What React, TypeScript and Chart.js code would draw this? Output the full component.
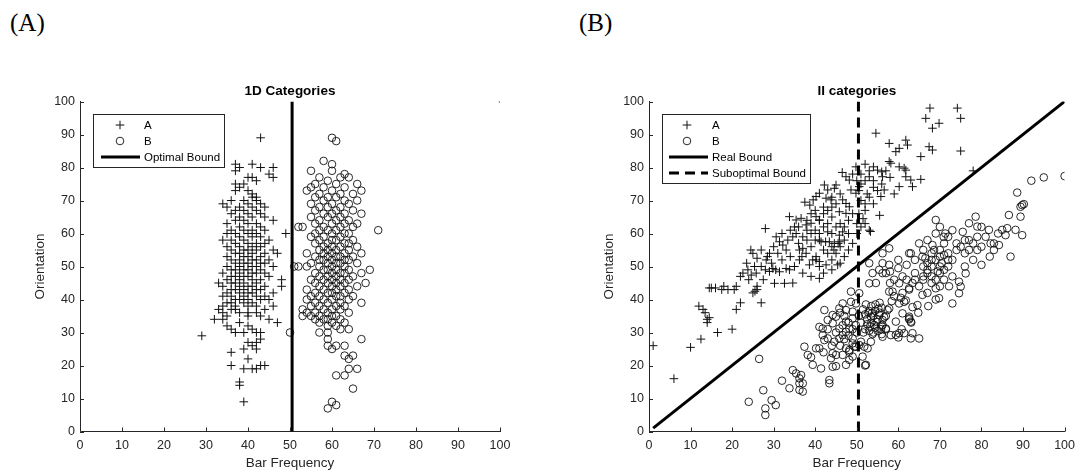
import React, { useEffect, useRef } from 'react';
import { Chart, registerables } from 'chart.js';

Chart.register(...registerables);

// ---------- data ----------
const AXIS_TICKS = [0, 10, 20, 30, 40, 50, 60, 70, 80, 90, 100];

// Panel (A) "1D Categories" : category A (+)
const oneDCatA: [number, number][] = [
  [43,89],
  [37,81],[41,81],[38,80],[43,80],[46,80],[37,79],[45,78],[40,77],[41,77],[46,77],[42,76],
  [37,75],[39,75],[38,74],[37,73],[40,73],[41,72],[41,71],[42,71],[36,70],[39,70],[42,70],
  [34,69],[40,69],[43,69],[35,68],[38,68],[41,68],[44,68],[37,67],[39,67],[42,67],[36,66],[40,66],[43,66],
  [38,65],[41,65],[44,65],[37,64],[39,64],[46,64],[35,63],[40,63],[42,63],[38,62],[43,62],[36,61],[39,61],
  [41,61],[44,61],[35,60],[37,60],[40,60],[42,60],[49,60],
  [38,59],[41,59],[43,59],[34,58],[36,58],[39,58],[45,58],[37,57],[40,57],[42,57],[44,57],[35,56],[38,56],
  [41,56],[43,56],[36,55],[39,55],[40,55],[42,55],[46,55],[37,54],[38,54],[41,54],[44,54],[47,54],[35,53],
  [39,53],[40,53],[43,53],[36,52],[38,52],[41,52],[42,52],[45,52],[37,51],[39,51],[40,51],[43,51],[44,51],
  [35,50],[38,50],[41,50],[42,50],[46,50],
  [36,49],[37,49],[39,49],[40,49],[43,49],[34,48],[38,48],[41,48],[42,48],[44,48],[36,47],[37,47],[39,47],
  [40,47],[45,47],[35,46],[38,46],[41,46],[43,46],[48,46],[33,45],[36,45],[37,45],[39,45],[42,45],[34,44],
  [38,44],[40,44],[41,44],[44,44],[48,44],[36,43],[37,43],[39,43],[42,43],[43,43],[35,42],[38,42],[40,42],
  [41,42],[46,42],[34,41],[36,41],[39,41],[42,41],[44,41],[37,40],[38,40],[40,40],[43,40],[45,40],
  [35,39],[36,39],[39,39],[41,39],[34,38],[37,38],[40,38],[42,38],[46,38],[33,37],[36,37],[37,37],[44,37],
  [34,36],[38,36],[40,36],[42,36],[35,35],[40,35],[43,35],[32,34],[34,34],[45,34],[38,33],[47,33],[35,32],
  [40,32],[36,31],[41,31],[37,30],[39,30],[42,30],[43,30],[29,29],
  [43,28],[40,27],[42,27],[41,26],[39,25],[42,25],[36,24],[40,22],[36,20],[43,20],[44,20],[39,19],[41,19],
  [42,19],[38,15],[38,14],[39,9],
];

// Panel (A) "1D Categories" : category B (o)
const oneDCatB: [number, number][] = [
  [60,89],[61,88],[58,82],[60,81],[55,79],[60,79],[63,78],[57,77],[62,77],[64,77],[59,76],[56,75],[61,75],
  [66,75],[55,74],[58,74],[63,74],[54,73],[60,73],[67,73],[57,72],[62,72],[65,72],[56,71],[59,71],[61,71],
  [58,70],[63,70],[66,70],[55,69],[60,69],[64,69],[57,68],[59,68],[62,68],[56,67],[61,67],[65,67],[58,66],
  [60,66],[63,66],[67,66],[55,65],[59,65],[62,65],[57,64],[61,64],[64,64],[56,63],[60,63],[63,63],[66,63],
  [52,62],[53,62],[58,62],[62,62],[65,62],[57,61],[59,61],[61,61],[71,61],[56,60],[60,60],[63,60],[64,60],
  [55,59],[58,59],[62,59],[57,58],[60,58],[61,58],[65,58],[56,57],[59,57],[63,57],[64,57],[58,56],[60,56],
  [62,56],[66,56],[57,55],[59,55],[61,55],[64,55],[54,54],[58,54],[60,54],[63,54],[67,54],[56,53],[59,53],
  [61,53],[62,53],[65,53],[57,52],[58,52],[60,52],[63,52],[64,52],[55,51],[59,51],[61,51],[62,51],[66,51],
  [51,50],[52,50],[54,50],[57,50],[60,50],[63,50],
  [58,49],[59,49],[61,49],[64,49],[69,49],[56,48],[60,48],[62,48],[63,48],[67,48],[57,47],[59,47],[61,47],
  [65,47],[55,46],[58,46],[60,46],[62,46],[64,46],[56,45],[59,45],[61,45],[63,45],[68,45],[57,44],[60,44],
  [62,44],[66,44],[54,43],[58,43],[61,43],[64,43],[56,42],[59,42],[60,42],[63,42],[55,41],[57,41],[61,41],
  [62,41],[65,41],[54,40],[58,40],[60,40],[64,40],
  [56,39],[59,39],[62,39],[67,39],[55,38],[57,38],[61,38],[63,38],[53,37],[58,37],[60,37],[62,37],[54,36],
  [56,36],[59,36],[64,36],[53,35],[55,35],[57,35],[60,35],[61,35],[56,34],[58,34],[59,34],[62,34],[57,33],
  [60,33],[63,33],[59,32],[61,32],[62,31],[64,31],[50,30],[57,30],[59,30],[59,28],[67,28],[59,26],[61,26],
  [63,26],[60,25],[63,23],[65,23],[64,22],[64,19],[66,19],[61,17],[63,17],[65,13],[60,9],[61,8],[59,7],
];

const oneDOptimalBoundX = 50.5;
const oneDCornerOrange: [number, number][] = [[0, 0]];
const oneDCornerPurple: [number, number][] = [[100, 100]];

// Panel (B) "II categories" : category A (+)
const iiCatA: [number, number][] = [
  [1,26],[6,16],[10,25.5],[12.5,28],[12,38],[13,37],[13.5,36],[14,34],[14.5,34.5],[14,33],[16.5,30],
  [14.5,43.5],[15,43.5],[16,43.5],[17.5,43],[18,44],[19,43],[20,31],[21,37],[22,39],[20.5,43],[21,44],
  [22,47],[22.6,48],[23.8,49],[24,46],[24.6,47.4],[25.4,50],[25.8,48],[25,42],[25.5,42.5],[26,43],[26,44],
  [27,39],[27.5,46],[28,49],[29,48.5],[23.5,51],[24.5,55],[25,54],[26,52.5],[27,55],[27,50],[28.2,52],
  [28.5,53],[29,54],[29.5,51],[29.8,49.4],[30,56],[30.5,49],[28,61.5],
  [30.2,44.9],[31.4,48.4],[32.6,44.9],[33,49.4],[33.8,49],[34.6,45],[30.6,59],[31.4,57.5],[32.2,56.5],
  [33.4,58],[34.6,59],[35.4,60],[33.8,65.1],[35.4,64.1],[36.6,64.6],[37.8,62.6],[39,63.1],[40.2,65.1],
  [41,64.1],[37.5,69.5],[38.7,68.6],[39.5,70.2],[40.2,71.2],
  [36.2,55],[37.8,54],[39.4,52],[41,51.5],[42.6,50.5],[38.6,50.5],[40.2,53],[36.2,52],[36.8,53],[37,55.5],
  [40.2,52],[41,50],[41.4,57.5],[43.4,57.5],[44.6,57],[45.8,57.5],[46,51],[45.4,50.5],[41,46.4],
  [42.2,74.7],[43,73.2],[45,74.7],[44.6,73.7],[41,72.2],[42.6,70.7],[43.8,70.2],[46.5,78.5],[49,78],
  [47.4,77.2],[48.2,76.2],[48.6,73.2],[49.8,72.2],[50.6,74.2],[46.6,70.2],[47.4,69.1],[48.2,68.1],
  [45.8,66.6],[47.4,66.1],
  [41,64],[42,62],[43,60.5],[44,60],[45.8,59.5],[46.6,60.5],[41,58],[42.5,57.5],[44,56],[45.5,57],
  [44.5,55],[43,63],[44,65],[45,62],[42,66],[39,60],[38,58],[40,61],[36,62],[34,61],[32,60],
  [53,61],[53.3,60.6],[55.5,65.5],[53,77.2],[54,80.2],[55,79.2],[56,78.7],[49.8,80.2],[53,79],[52,76],
  [51,75],[50.5,73],[52.5,72],[54,74],[51,70],[52,67],[54,69],[50.5,66],[56.2,77.2],[56.6,73.2],[57,79],
  [55.8,71.2],[52,63],[50,63],[51.5,64.5],
  [54.6,90.4],[57.8,87.3],[59.4,84.8],[61.8,88.3],[62.2,86.8],[60.2,85.8],[67.4,86.3],[68.2,85.3],
  [65.4,83.3],[57.8,81.8],[61.4,79.8],[61.8,77.2],[65.4,76.4],[63,76.2],[60.2,74.2],[63.4,74.2],
  [58.2,81.3],[60.2,80.2],[61.8,79.2],
  [67.6,98],[74.2,98],[66.6,94.9],[69.8,93.4],[68.2,91.9],[75,94.9],[75,85],[78,79],
  [36,57],[37,59],[38,61],[39,56],[40,58],[41,60],[42,55],[43,54],[44,52],[45,54],[46,56],[47,58],[48,60],
  [47,62],[46,63],[48,64],[49,66],[43,67],[44,68],[45,69],[46,72],[44,71],[42,68],[40,67],[39,66],[38,64],
  [35,62],[33,55],[34,53],[32,52],[31,54],[35,50],[37,48],[39,47],[42,48],[44,49],[47,53],[48,55],[49,57],
  [50,60],[51,62],[52,69],[53,71],[55,73],[54,76],[56,75],[58,77],[59,72],[51,78],[52,81],[50,76],
];

// Panel (B) "II categories" : category B (o)
const iiCatB: [number, number][] = [
  [26.5,22],[24,9],[27.5,12.5],[28,7],[28,5],[29.5,9.5],[30.5,8],[32,15.4],
  [33.8,13.1],[34.6,18.6],[35.4,17.6],[36.2,16.1],[36.2,14.6],[36.2,12.6],[37,12.1],[36.6,17.1],[37,14.6],
  [37.4,25.7],[38.2,23.2],[40.2,25.2],[39.4,20.2],[41.4,19.1],[41,25.2],[39,22.5],
  [42.2,36.8],[44.2,35.3],[41.8,29.2],[42.2,27.7],[43,28.2],[43.8,22.2],[44.2,23.7],[45,23.2],[44.6,27.2],
  [45.8,28.2],[46.6,29.2],[47.4,30.2],[48.2,31.2],[49,28.2],[49.8,32.2],[49,34.3],[47.4,33.3],[46.6,32.2],
  [45.8,31.2],
  [41,31.7],[41.8,31.2],[43,33.8],[44.2,32.8],[45,34.8],[45.8,37.3],[47.4,36.8],[49,36.3],[48.6,39.3],
  [49.8,38.8],[46.6,38.8],[48.6,42.4],[50.6,41.9],
  [49,22.7],[51.4,22.7],[52,20],[49.8,25.7],[49,26.7],[44.2,19.6],[45,19.8],[43.4,15.6],[43.4,14.6],
  [47.4,20.2],[48.2,24.2],[47.4,25.2],[46.6,23.2],
  [51.5,37],[52,35.5],[52.5,34],[53,36.5],[53.5,33],[54,35],[54.5,31.5],[55,34],[55.5,36],[56,32],[52,31],
  [53,30.5],[54,30],[55,30.5],[56,29.5],[57,31],[52.5,32.5],[53.5,38],[54.5,38.5],[55.5,39],[56,37.5],
  [57,35],[51,33],[50.5,35],[53.4,34.8],[54.2,32.3],[56.2,33.8],
  [51.8,25.7],[52.2,20.2],[51,27.2],[53.4,27.2],[52.6,25.2],[50.6,26.2],[49.4,25.7],[48.2,21.7],[48.2,24.7],
  [53,51],[53.8,48],[56.2,51],[57,48],[57.8,50.5],[54.6,45],[58.6,42.4],[60.2,44.9],[61,42],[62.6,43],
  [63.4,45],
  [61.8,39.7],[63.4,37.7],[60.2,38.8],[61,35.8],[62.6,34.8],[63,33.3],[63.4,29.8],[60.2,29.8],[61.4,29.8],
  [59.4,29.3],
  [56.2,28.7],[58.2,29.2],[60,28.5],[63,28.2],[65,28.2],
  [74.6,41.9],[75,43.9],[74.6,45.4],[76.2,47.9],[73,38.8],[69,40],[67.2,38],[64.8,36],[63.1,33],[62.6,34],
  [60.8,31],
  [53,44.9],[56.2,48],[60,49.5],[64,48],[68,50],[70.4,51],[57.8,42.4],[62.6,43.4],[65.8,41.4],[69,43.4],
  [72.2,44],[69.8,40.4],[61.4,39.3],[64.6,38.3],[57.8,37.3],[55.4,35.3],[62.6,34.3],[59.4,33.3],[56.2,32.3],
  [57,31.2],
  [55.4,49],[58,48.5],[60,52],[62,50.5],[63,54],[65.8,53],[68.2,56.5],[68.6,55],[70.9,59],[71.3,60],
  [69,64.1],[75,56],[76,54],[77,58],[78,52],[79,55],[80,50.5],[81,59],[82,53],[83,57],[75.5,60.5],
  [77,63.1],[78.6,65.1],[79,62.1],[81.8,61.1],[82.2,57],[84.2,56.5],[85,61.1],[86.2,61.6],[88.2,61.1],
  [89.8,59.5],[85.8,59.5],[87,53],[86.6,65.6],[89.4,65.1],[89.4,68.1],[89.8,68.6],[90.2,68.9],[88.6,72.4],
  [92,76],[95,77],[100,77.4],
  [65,57],[66,55],[67,58],[68,52],[69,60],[70,62],[71,57],[72,59],[73,61],[74,57],[72,54],[70,55],[66,50],
  [64,52],[56.2,54],[57.8,55.5],[62.6,54],[64,46],[66,46],[67,48],[70,48],[72,50],[73,52],[71,46],[68,45],
  [65,44],[67,42],[70,44],
  [52.8,36],[53.2,31.8],[54.8,33.2],[55.2,37.2],[53.8,29.5],[52.2,38.5],[54.4,36.6],[55.8,31],[51.6,30],
  [53.6,35.8],[56.6,34.6],[57.4,36.8],[58.4,39.5],[59,41],[60.6,40.5],
  [66,47],[67,49],[68,47],[69,46],[70,50],[71,49],[72,52],[69,52],[68,54],[67,51],[70,53],[71,53.5],
  [69.5,48.5],[66.5,52.5],[73,47],
  [42,24],[44,26],[46,26],[47,28],[48,29],[45,30],[43,31],[47,35],[46,36],[48,33],[50,30],[49,31],
  [58,45],[59,46],[61,47],[62,46],[76,50],[77,55],[78,57],[80,56],[79,59],[76,58],[74,55],[83,55],[84,60],
  [80,62],
];

const iiRealBound: [number, number][] = [[1, 1], [100, 100]];
const iiSuboptimalBoundX = 50.4;

// ---------- styling ----------
const INK = '#262626';
const MARK = '#111111';
const FONT = "Arial, 'Liberation Sans', Helvetica, sans-serif";
const PLUS_R = 4.3;
const CIRCLE_R = 3.8;

const toPts = (arr: [number, number][]) => arr.map(([x, y]) => ({ x, y }));

type LegendKind = 'plus' | 'circle' | 'line' | 'dash';
interface PanelSpec {
  title: string;
  canvasLeft: number;
  width: number;
  areaLeft: number;
  areaRight: number;
  yTitleX: number;
  legendBox: [number, number, number, number];
  legendMarkerX: number;
  legendLineX: [number, number];
  legendTextX: number;
  legendRows: number[];
  legend: { label: string; kind: LegendKind }[];
  datasets: any[];
}

function plusDataset(data: [number, number][]) {
  return {
    data: toPts(data),
    pointStyle: 'cross',
    pointRadius: PLUS_R,
    pointBorderColor: MARK,
    pointBackgroundColor: 'rgba(0,0,0,0)',
    pointBorderWidth: 1,
    showLine: false,
  };
}
function circleDataset(data: [number, number][]) {
  return {
    data: toPts(data),
    pointStyle: 'circle',
    pointRadius: CIRCLE_R,
    pointBorderColor: MARK,
    pointBackgroundColor: 'rgba(0,0,0,0)',
    pointBorderWidth: 0.9,
    showLine: false,
  };
}
function lineDataset(data: [number, number][], dash: number[] = []) {
  return {
    data: toPts(data),
    showLine: true,
    borderColor: '#000',
    borderWidth: 3,
    borderDash: dash,
    pointRadius: 0,
    fill: false,
  };
}

function decoPlugin(spec: PanelSpec) {
  return {
    id: 'panelDeco',
    afterDraw(chart: any) {
      const { ctx, chartArea: a } = chart;
      const xs = chart.scales.x;
      const ys = chart.scales.y;
      ctx.save();
      // inward ticks
      ctx.strokeStyle = INK;
      ctx.lineWidth = 1;
      ctx.beginPath();
      AXIS_TICKS.forEach((v) => {
        const px = Math.round(xs.getPixelForValue(v)) + 0.5;
        ctx.moveTo(px, a.bottom);
        ctx.lineTo(px, a.bottom - 4);
        const py = Math.round(ys.getPixelForValue(v)) + 0.5;
        ctx.moveTo(a.left, py);
        ctx.lineTo(a.left + 4, py);
      });
      ctx.stroke();

      // title
      ctx.fillStyle = '#000';
      ctx.textAlign = 'center';
      ctx.textBaseline = 'middle';
      ctx.font = `bold 13.5px ${FONT}`;
      ctx.fillText(spec.title, (a.left + a.right) / 2, 91.5);

      // axis titles
      ctx.fillStyle = INK;
      ctx.font = `13.5px ${FONT}`;
      ctx.fillText('Bar Frequency', (a.left + a.right) / 2, 463);
      ctx.save();
      ctx.translate(spec.yTitleX, (a.top + a.bottom) / 2);
      ctx.rotate(-Math.PI / 2);
      ctx.fillText('Orientation', 0, 0);
      ctx.restore();

      // legend
      const [bx, by, bw, bh] = spec.legendBox;
      ctx.fillStyle = '#fff';
      ctx.fillRect(bx, by, bw, bh);
      ctx.strokeStyle = INK;
      ctx.lineWidth = 1;
      ctx.strokeRect(Math.round(bx) + 0.5, Math.round(by) + 0.5, Math.round(bw), Math.round(bh));
      ctx.font = `11.5px ${FONT}`;
      ctx.textAlign = 'left';
      ctx.textBaseline = 'middle';
      spec.legend.forEach((item, i) => {
        const ry = spec.legendRows[i];
        const mx = spec.legendMarkerX;
        ctx.strokeStyle = MARK;
        ctx.setLineDash([]);
        if (item.kind === 'plus') {
          ctx.lineWidth = 1;
          ctx.beginPath();
          ctx.moveTo(mx - PLUS_R, ry);
          ctx.lineTo(mx + PLUS_R, ry);
          ctx.moveTo(mx, ry - PLUS_R);
          ctx.lineTo(mx, ry + PLUS_R);
          ctx.stroke();
        } else if (item.kind === 'circle') {
          ctx.lineWidth = 0.9;
          ctx.beginPath();
          ctx.arc(mx, ry, CIRCLE_R, 0, Math.PI * 2);
          ctx.stroke();
        } else {
          ctx.strokeStyle = '#000';
          ctx.lineWidth = 3;
          if (item.kind === 'dash') ctx.setLineDash([10, 6]);
          ctx.beginPath();
          ctx.moveTo(spec.legendLineX[0], ry);
          ctx.lineTo(spec.legendLineX[1], ry);
          ctx.stroke();
          ctx.setLineDash([]);
        }
        ctx.fillStyle = '#000';
        ctx.fillText(item.label, spec.legendTextX, ry + 0.5);
      });
      ctx.restore();
    },
  };
}

function Panel({ spec }: { spec: PanelSpec }) {
  const ref = useRef<HTMLCanvasElement | null>(null);
  useEffect(() => {
    if (!ref.current) return;
    const tickFont = { family: FONT, size: 12.5 };
    const chart = new Chart(ref.current, {
      type: 'scatter',
      data: { datasets: spec.datasets },
      options: {
        animation: false,
        responsive: false,
        maintainAspectRatio: false,
        devicePixelRatio: 1,
        layout: { padding: { left: 0, right: spec.width - spec.areaRight, top: 101.5, bottom: 0 } },
        plugins: { legend: { display: false }, tooltip: { enabled: false }, title: { display: false } },
        scales: {
          x: {
            type: 'linear',
            min: 0,
            max: 100,
            ticks: { stepSize: 10, color: INK, font: tickFont, padding: 7, maxRotation: 0, autoSkip: false },
            grid: { display: false, drawTicks: false },
            border: { display: true, color: INK, width: 1 },
            afterFit: (s: any) => { s.height = 40.5; },
          },
          y: {
            type: 'linear',
            min: 0,
            max: 100,
            ticks: { stepSize: 10, color: INK, font: tickFont, padding: 5, autoSkip: false },
            grid: { display: false, drawTicks: false },
            border: { display: true, color: INK, width: 1 },
            afterFit: (s: any) => { s.width = spec.areaLeft; },
          },
        },
      } as any,
      plugins: [decoPlugin(spec)],
    });
    return () => chart.destroy();
  }, [spec]);
  return (
    <canvas
      ref={ref}
      width={spec.width}
      height={472}
      style={{ position: 'absolute', left: spec.canvasLeft, top: 0, width: spec.width, height: 472, display: 'block' }}
    />
  );
}

const panelA: PanelSpec = {
  title: '1D Categories',
  canvasLeft: 0,
  width: 541,
  areaLeft: 80,
  areaRight: 500,
  yTitleX: 40.5,
  legendBox: [93, 114, 131, 53],
  legendMarkerX: 120,
  legendLineX: [101, 140],
  legendTextX: 144,
  legendRows: [125, 141, 157],
  legend: [
    { label: 'A', kind: 'plus' },
    { label: 'B', kind: 'circle' },
    { label: 'Optimal Bound', kind: 'line' },
  ],
  datasets: [
    lineDataset([[oneDOptimalBoundX, 0], [oneDOptimalBoundX, 100]]),
    plusDataset(oneDCatA),
    circleDataset(oneDCatB),
    { data: toPts(oneDCornerOrange), pointRadius: 1.3, pointBorderWidth: 0, pointBackgroundColor: '#EDB120', showLine: false },
    { data: toPts(oneDCornerPurple), pointRadius: 1.3, pointBorderWidth: 0, pointBackgroundColor: '#7E2F8E', showLine: false },
  ],
};

const panelB: PanelSpec = {
  title: 'II categories',
  canvasLeft: 541,
  width: 541,
  areaLeft: 108,
  areaRight: 525,
  yTitleX: 68,
  legendBox: [121, 114, 148, 69],
  legendMarkerX: 146,
  legendLineX: [128, 167],
  legendTextX: 171,
  legendRows: [125, 141, 157, 173],
  legend: [
    { label: 'A', kind: 'plus' },
    { label: 'B', kind: 'circle' },
    { label: 'Real Bound', kind: 'line' },
    { label: 'Suboptimal Bound', kind: 'dash' },
  ],
  datasets: [
    lineDataset(iiRealBound),
    lineDataset([[iiSuboptimalBoundX, 0], [iiSuboptimalBoundX, 100]], [10, 6]),
    plusDataset(iiCatA),
    circleDataset(iiCatB),
  ],
};

const labelStyle: React.CSSProperties = {
  position: 'absolute',
  top: 9,
  fontFamily: "'Times New Roman', 'Liberation Serif', serif",
  fontSize: 25,
  color: '#000',
  margin: 0,
};

export default function App() {
  return (
    <div style={{ position: 'absolute', left: 0, top: 0, width: 1082, height: 472, background: '#fff', overflow: 'hidden' }}>
      <div style={{ ...labelStyle, left: 10 }}>(A)</div>
      <div style={{ ...labelStyle, left: 579 }}>(B)</div>
      <Panel spec={panelA} />
      <Panel spec={panelB} />
    </div>
  );
}
